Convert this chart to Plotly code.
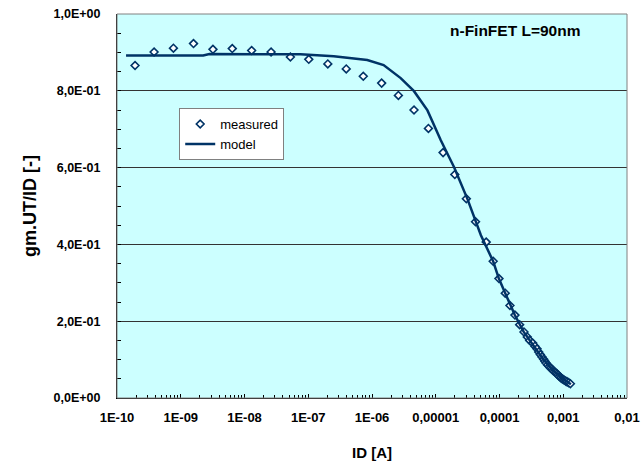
import plotly.graph_objects as go

# measured data: log10(ID) and gm.UT/ID
meas_logid = [-9.717, -9.418, -9.115, -8.800, -8.495, -8.192, -7.888, -7.583, -7.280, -6.992,
              -6.693, -6.404, -6.137, -5.849, -5.586, -5.341, -5.115, -4.885, -4.701, -4.520,
              -4.376, -4.209, -4.099, -4.009, -3.910, -3.836, -3.758, -3.684, -3.616, -3.564,
              -3.527, -3.480, -3.445, -3.412, -3.385, -3.360, -3.333, -3.307, -3.288, -3.270,
              -3.245, -3.219, -3.200, -3.181, -3.160, -3.140, -3.120, -3.098, -3.080, -3.061,
              -3.040, -3.019, -3.000, -2.983, -2.960, -2.940, -2.915, -2.888]
meas_gm = [0.866, 0.901, 0.911, 0.923, 0.908, 0.910, 0.905, 0.901, 0.888, 0.882,
           0.870, 0.857, 0.838, 0.820, 0.788, 0.750, 0.702, 0.639, 0.582, 0.519,
           0.459, 0.406, 0.356, 0.311, 0.273, 0.241, 0.216, 0.191, 0.172, 0.159,
           0.150, 0.143, 0.135, 0.128, 0.120, 0.113, 0.107, 0.101, 0.096, 0.091,
           0.086, 0.082, 0.078, 0.075, 0.072, 0.069, 0.066, 0.063, 0.060, 0.056,
           0.053, 0.050, 0.048, 0.046, 0.044, 0.042, 0.040, 0.037]

# model curve
model_logid = [-9.858, -8.648, -8.55, -7.123, -6.6, -6.074, -5.818, -5.550, -5.341, -5.130,
               -4.921, -4.712, -4.502, -4.292, -4.10, -4.01, -3.91, -3.76, -3.62, -3.47,
               -3.31, -3.14, -2.98, -2.88]
model_gm = [0.892, 0.892, 0.896, 0.895, 0.890, 0.880, 0.867, 0.833, 0.799, 0.749,
            0.671, 0.601, 0.518, 0.424, 0.356, 0.311, 0.273, 0.216, 0.172, 0.137,
            0.100, 0.069, 0.047, 0.036]

x_tickvals_exp = [-10, -9, -8, -7, -6, -5, -4, -3, -2]
x_ticktext = ["1E-10", "1E-09", "1E-08", "1E-07", "1E-06", "0,00001", "0,0001", "0,001", "0,01"]
y_tickvals = [0, 0.2, 0.4, 0.6, 0.8, 1.0]
y_ticktext = ["0,0E+00", "2,0E-01", "4,0E-01", "6,0E-01", "8,0E-01", "1,0E+00"]

meas_x = [10 ** v for v in meas_logid]
model_x = [10 ** v for v in model_logid]
x_tickvals = [10 ** e for e in x_tickvals_exp]
x_minor = [m * 10 ** e for e in x_tickvals_exp[:-1] for m in range(2, 10)]

NAVY = "#003366"
FONT = "Liberation Sans, Arial, sans-serif"

fig = go.Figure()
fig.add_trace(go.Scatter(
    x=meas_x, y=meas_gm, mode="markers", name="measured",
    marker=dict(symbol="diamond", size=6, color="white", line=dict(color=NAVY, width=1.6)),
))
fig.add_trace(go.Scatter(
    x=model_x, y=model_gm, mode="lines", name="model",
    line=dict(color=NAVY, width=2.5),
))

fig.update_layout(
    width=642, height=464,
    margin=dict(l=117, r=15, t=14, b=66),
    paper_bgcolor="white",
    plot_bgcolor="#CCFFFF",
    font=dict(family=FONT, color="black"),
    showlegend=True,
    legend=dict(
        x=0.122, y=0.755, xanchor="left", yanchor="top",
        bgcolor="white", bordercolor="#808080", borderwidth=1,
        font=dict(family=FONT, size=13, color="black"),
        tracegroupgap=0, itemwidth=30,
    ),
    xaxis=dict(
        type="log", range=[-10, -2], automargin=False,
        tickvals=x_tickvals, ticktext=x_ticktext,
        ticks="inside", ticklen=4, tickcolor="black",
        minor=dict(tickvals=x_minor, ticks="inside", ticklen=3, tickcolor="black", showgrid=False),
        showgrid=False, zeroline=False,
        showline=True, linecolor="black", linewidth=1,
        tickfont=dict(family=FONT, size=13, color="black", weight="bold"),
        ticklabelstandoff=7,
        title=dict(text="<b>ID [A]</b>", font=dict(family=FONT, size=15, color="black"), standoff=23),
    ),
    yaxis=dict(
        range=[0, 1], automargin=False,
        tickvals=y_tickvals, ticktext=y_ticktext,
        ticks="inside", ticklen=4, tickcolor="black",
        minor=dict(dtick=0.05, ticks="inside", ticklen=4, tickcolor="black", showgrid=False),
        showgrid=True, gridcolor="#333333", gridwidth=1,
        zeroline=False,
        showline=True, linecolor="black", linewidth=1,
        tickfont=dict(family=FONT, size=12.5, color="black", weight="bold"),
        ticklabelstandoff=13,
        title=dict(text="<b>gm.UT/ID [-]</b>", font=dict(family=FONT, size=18, color="black"), standoff=12),
    ),
    annotations=[dict(
        x=0.78, y=0.985, xref="paper", yref="paper", xanchor="center", yanchor="top",
        text="<b>n-FinFET L=90nm</b>", showarrow=False,
        font=dict(family=FONT, size=15.5, color="black"),
    )],
    shapes=[dict(
        type="rect", xref="paper", yref="paper", x0=0, y0=0, x1=1, y1=1,
        line=dict(color="#808080", width=1), layer="above",
    )],
)

fig.write_html("out.html")
